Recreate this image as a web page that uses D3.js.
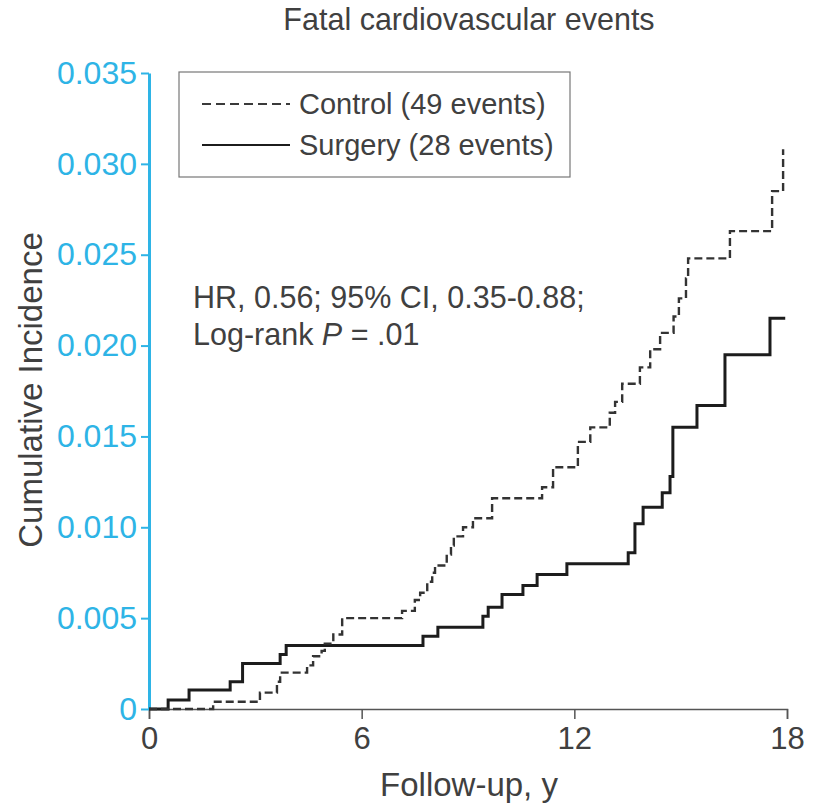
<!DOCTYPE html>
<html>
<head>
<meta charset="utf-8">
<script src="https://cdn.jsdelivr.net/npm/d3@7"></script>
<style>
  html, body { margin: 0; padding: 0; background: #fff; }
  svg { display: block; }
  text { font-family: "Liberation Sans", Arial, Helvetica, sans-serif; }
</style>
</head>
<body>
<svg id="chart" width="820" height="807"></svg>
<script>
// ---- Data ----
const controlTimes  = [0, 1.81, 3.13, 3.61, 3.70, 4.46, 4.63, 4.87, 4.96, 5.20, 5.45, 7.14, 7.50, 7.65, 7.85, 7.99, 8.07, 8.40, 8.52, 8.60, 8.86, 9.14, 9.68, 11.09, 11.40, 12.10, 12.45, 13.00, 13.15, 13.35, 13.85, 14.14, 14.42, 14.80, 14.95, 15.15, 15.21, 16.39, 17.58, 17.89];
const controlValues = [0, 0.0004, 0.0009, 0.0015, 0.0020, 0.0024, 0.0029, 0.0032, 0.0036, 0.0041, 0.0050, 0.0054, 0.0060, 0.0064, 0.0070, 0.0075, 0.0079, 0.0085, 0.0090, 0.0095, 0.0100, 0.0105, 0.0116, 0.0122, 0.0133, 0.0147, 0.0155, 0.0163, 0.0169, 0.0179, 0.0188, 0.0198, 0.0207, 0.0216, 0.0226, 0.0237, 0.0248, 0.0263, 0.0285, 0.0308];

const surgeryTimes  = [0, 0.54, 1.13, 2.29, 2.64, 3.70, 3.87, 7.73, 8.15, 9.42, 9.57, 9.96, 10.55, 10.95, 11.79, 13.52, 13.71, 13.94, 14.48, 14.70, 14.78, 15.46, 16.25, 17.52, 17.95];
const surgeryValues = [0, 0.0005, 0.00105, 0.0015, 0.0025, 0.0030, 0.0035, 0.0040, 0.0045, 0.0051, 0.0056, 0.0063, 0.0068, 0.0074, 0.0080, 0.0086, 0.0102, 0.0111, 0.0119, 0.0128, 0.0155, 0.0167, 0.0195, 0.0215, 0.0215];

const xTicks = [0, 6, 12, 18];
const yTicks = [0, 0.005, 0.010, 0.015, 0.020, 0.025, 0.030, 0.035];
const legendLabels = ["Control (49 events)", "Surgery (28 events)"];
const titleText = "Fatal cardiovascular events";
const xLabel = "Follow-up, y";
const yLabel = "Cumulative Incidence";

// ---- Setup ----
const svg = d3.select("#chart");
const blue = "#2eb4e6";
const textGray = "#404040";

const x = d3.scaleLinear().domain([0, 18]).range([149, 787]);
const y = d3.scaleLinear().domain([0, 0.035]).range([709, 73]);

// Title
svg.append("text")
  .attr("x", 469).attr("y", 30)
  .attr("text-anchor", "middle")
  .attr("font-size", 30.5).attr("fill", textGray)
  .text(titleText);

// X axis
const xAxis = svg.append("g")
  .attr("transform", `translate(0,${y(0)})`)
  .call(d3.axisBottom(x).tickValues(xTicks).tickSize(10).tickPadding(8).tickFormat(d3.format("d")));
xAxis.select(".domain").attr("stroke", "#555").attr("stroke-width", 1.5);
xAxis.selectAll(".tick line").attr("stroke", "#555").attr("stroke-width", 1.5);
xAxis.selectAll(".tick text").attr("font-size", 31).attr("fill", textGray)
  .attr("font-family", "Liberation Sans, Arial, sans-serif");

// Y axis
const yAxis = svg.append("g")
  .attr("transform", `translate(${x(0)},0)`)
  .call(d3.axisLeft(y).tickValues(yTicks).tickSize(8).tickPadding(4)
    .tickSizeOuter(0)
    .tickFormat(d => d === 0 ? "0" : d3.format(".3f")(d)));
yAxis.select(".domain").attr("stroke", blue).attr("stroke-width", 3);
yAxis.selectAll(".tick line").attr("stroke", blue).attr("stroke-width", 2);
yAxis.selectAll(".tick text").attr("font-size", 32).attr("fill", blue)
  .attr("font-family", "Liberation Sans, Arial, sans-serif");

// Axis titles
svg.append("text")
  .attr("x", 469).attr("y", 796)
  .attr("text-anchor", "middle")
  .attr("font-size", 33).attr("fill", textGray)
  .text(xLabel);

svg.append("text")
  .attr("transform", `translate(42,390) rotate(-90)`)
  .attr("text-anchor", "middle")
  .attr("font-size", 33).attr("fill", textGray)
  .text(yLabel);

// Curves
const line = d3.line()
  .x(d => x(d[0]))
  .y(d => y(d[1]))
  .curve(d3.curveStepAfter);

const controlData = controlTimes.map((t, i) => [t, controlValues[i]]);
const surgeryData = surgeryTimes.map((t, i) => [t, surgeryValues[i]]);

svg.append("path")
  .datum(surgeryData)
  .attr("d", line)
  .attr("fill", "none")
  .attr("stroke", "#1c1c1c")
  .attr("stroke-width", 3);

svg.append("path")
  .datum(controlData)
  .attr("d", line)
  .attr("fill", "none")
  .attr("stroke", "#333")
  .attr("stroke-width", 2.4)
  .attr("stroke-dasharray", "8,4");

// Legend
const lg = svg.append("g");
lg.append("rect")
  .attr("x", 179).attr("y", 72).attr("width", 391).attr("height", 105)
  .attr("fill", "#fff").attr("stroke", "#777").attr("stroke-width", 1.2);
const legendStyles = [
  { dash: "9,5", width: 2, color: "#3a3a3a" },
  { dash: null, width: 2, color: "#1c1c1c" }
];
legendLabels.forEach((lab, i) => {
  const cy = 104 + i * 41;
  const l = lg.append("line")
    .attr("x1", 202).attr("x2", 290).attr("y1", cy).attr("y2", cy)
    .attr("stroke", legendStyles[i].color).attr("stroke-width", legendStyles[i].width);
  if (legendStyles[i].dash) l.attr("stroke-dasharray", legendStyles[i].dash);
  lg.append("text")
    .attr("x", 299).attr("y", cy + 10)
    .attr("font-size", 29).attr("fill", textGray)
    .text(lab);
});

// Annotation
svg.append("text")
  .attr("x", 193).attr("y", 308)
  .attr("font-size", 30.5).attr("fill", textGray)
  .text("HR, 0.56; 95% CI, 0.35-0.88;");
const t2 = svg.append("text")
  .attr("x", 193).attr("y", 345)
  .attr("font-size", 30.5).attr("fill", textGray);
t2.append("tspan").text("Log-rank ");
t2.append("tspan").attr("font-style", "italic").text("P");
t2.append("tspan").text(" = .01");
</script>
</body>
</html>
